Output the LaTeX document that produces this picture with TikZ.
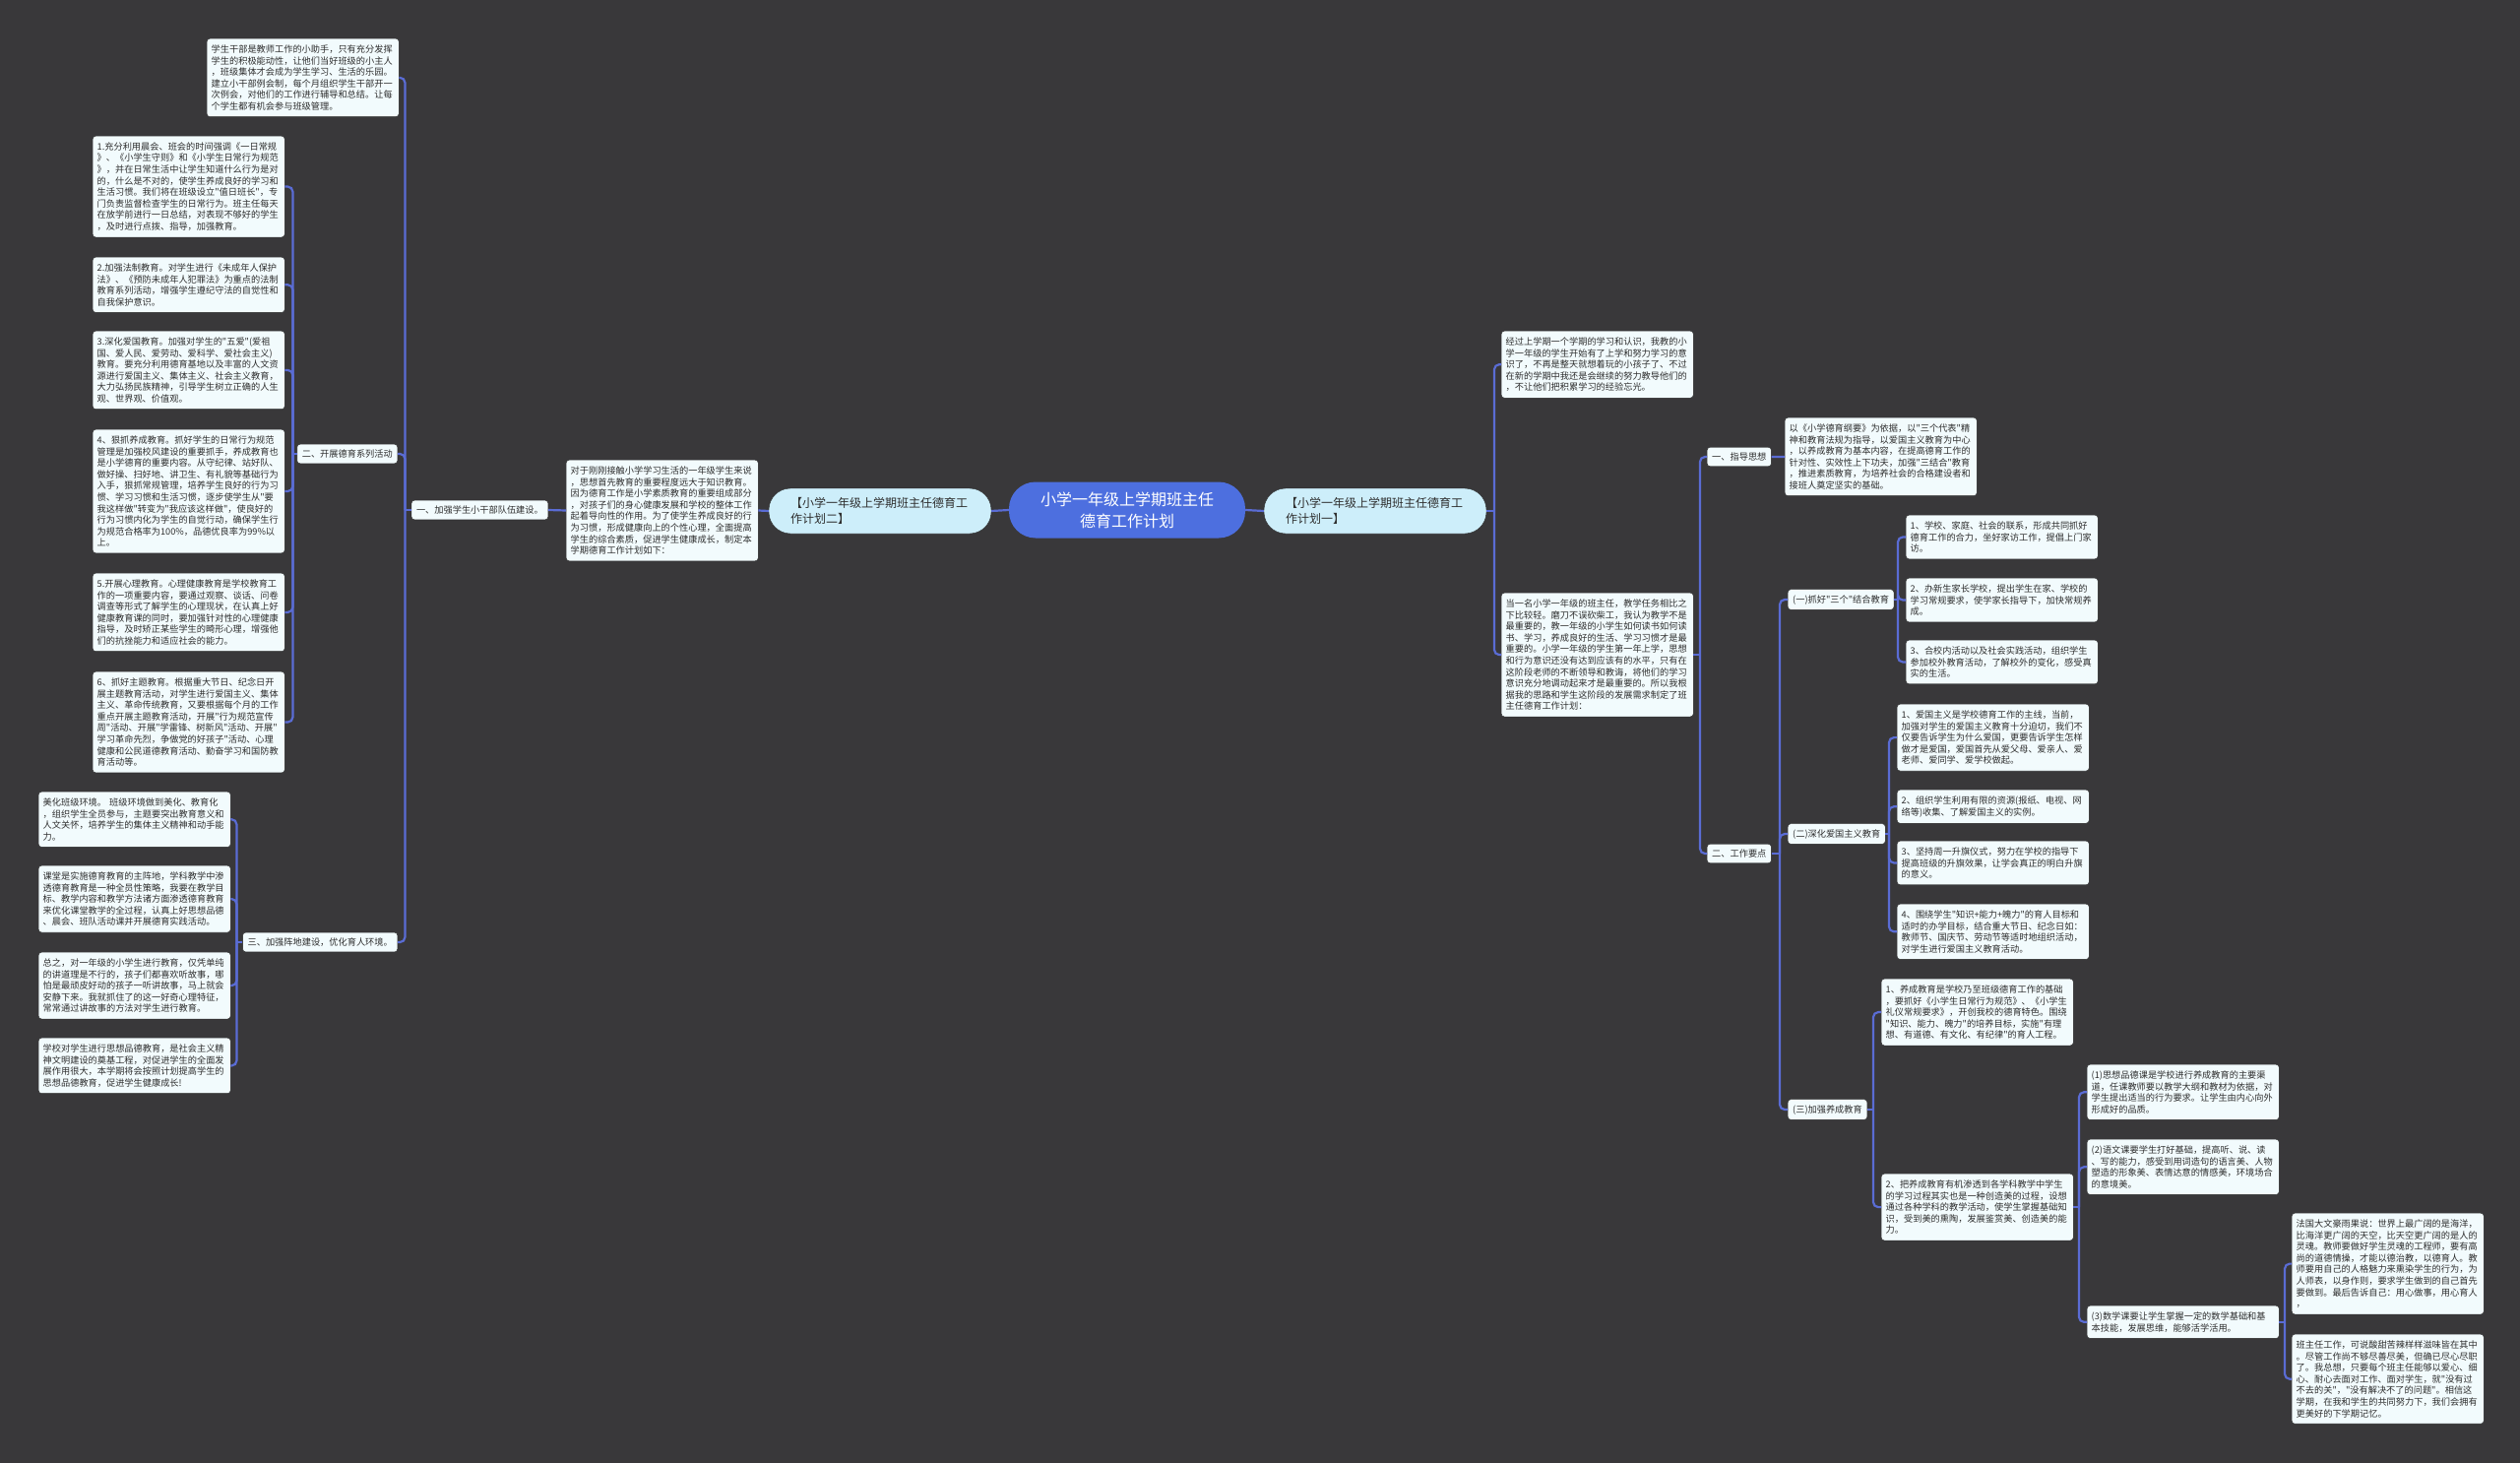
\documentclass[tikz,border=0pt]{standalone}
\usepackage{fontspec}
\newfontfamily\cjk{Noto Sans CJK SC}[Ligatures=TeXOff]
\usetikzlibrary{positioning,calc}
\definecolor{bgc}{HTML}{39383A}
\definecolor{boxc}{HTML}{F2FBFD}
\definecolor{edgec}{HTML}{262626}
\definecolor{planc}{HTML}{CDEEFA}
\definecolor{hubc}{HTML}{4D6FDF}
\definecolor{linkc}{HTML}{5A6CD4}
\definecolor{ink}{HTML}{2E2E2E}
\begin{document}
\begin{tikzpicture}[x=1pt, y=-1pt,
  leaf/.style={draw=edgec, fill=boxc, rounded corners=3pt, anchor=north west, text=ink, font=\cjk\fontsize{9.2}{11.6}\selectfont, text width=186pt, align=left, inner xsep=4.5pt, inner ysep=6.4pt},
  tag/.style={draw=edgec, fill=boxc, rounded corners=3pt, text=ink, font=\cjk\fontsize{9.2}{11.6}\selectfont, inner xsep=5pt, inner ysep=5.5pt},
  plan/.style={draw=edgec, fill=planc, rounded corners=22pt, text=ink, font=\cjk\fontsize{12}{16}\selectfont, text width=182pt, align=left, minimum width=226pt, minimum height=46pt},
  hub/.style={fill=hubc, rounded corners=27pt, text=white, font=\cjk\fontsize{16}{22}\selectfont, align=center, minimum width=240pt, minimum height=57pt},
  link/.style={draw=linkc, line width=2.2pt, rounded corners=5pt}]
  \fill[bgc] (0,0) rectangle (2560,1486);
  \useasboundingbox (0,0) rectangle (2560,1486);

  \node[hub] (root) at (1145,518) {小学一年级上学期班主任\\德育工作计划};
  \node[plan] (planB) at (894,519) {【小学一年级上学期班主任德育工\\作计划二】};
  \node[plan] (planA) at (1397,519) {【小学一年级上学期班主任德育工\\作计划一】};

  \node[leaf] (intro2) at (575,467) {对于刚刚接触小学学习生活的一年级学生来说\\，思想首先教育的重要程度远大于知识教育。\\因为德育工作是小学素质教育的重要组成部分\\，对孩子们的身心健康发展和学校的整体工作\\起着导向性的作用。为了使学生养成良好的行\\为习惯，形成健康向上的个性心理，全面提高\\学生的综合素质，促进学生健康成长，制定本\\学期德育工作计划如下：};
  \node[tag, anchor=east] (t1) at (557,518) {一、加强学生小干部队伍建设。};
  \node[leaf] (cadre) at (210,39) {学生干部是教师工作的小助手，只有充分发挥\\学生的积极能动性，让他们当好班级的小主人\\，班级集体才会成为学生学习、生活的乐园。\\建立小干部例会制，每个月组织学生干部开一\\次例会，对他们的工作进行辅导和总结。让每\\个学生都有机会参与班级管理。};
  \node[tag, anchor=east] (t2) at (404,461) {二、开展德育系列活动};
  \node[tag, anchor=east] (t3) at (404,957) {三、加强阵地建设，优化育人环境。};

  \node[leaf] (n1) at (94,138) {1.充分利用晨会、班会的时间强调《一日常规\\》、《小学生守则》和《小学生日常行为规范\\》，并在日常生活中让学生知道什么行为是对\\的，什么是不对的，使学生养成良好的学习和\\生活习惯。我们将在班级设立"值日班长"，专\\门负责监督检查学生的日常行为。班主任每天\\在放学前进行一日总结，对表现不够好的学生\\，及时进行点拨、指导，加强教育。};
  \node[leaf] (n2) at (94,261) {2.加强法制教育。对学生进行《未成年人保护\\法》、《预防未成年人犯罪法》为重点的法制\\教育系列活动，增强学生遵纪守法的自觉性和\\自我保护意识。};
  \node[leaf] (n3) at (94,336) {3.深化爱国教育。加强对学生的"五爱"(爱祖\\国、爱人民、爱劳动、爱科学、爱社会主义)\\教育。要充分利用德育基地以及丰富的人文资\\源进行爱国主义、集体主义、社会主义教育，\\大力弘扬民族精神，引导学生树立正确的人生\\观、世界观、价值观。};
  \node[leaf] (n4) at (94,436) {4、狠抓养成教育。抓好学生的日常行为规范\\管理是加强校风建设的重要抓手，养成教育也\\是小学德育的重要内容。从守纪律、站好队、\\做好操、扫好地、讲卫生、有礼貌等基础行为\\入手，狠抓常规管理，培养学生良好的行为习\\惯、学习习惯和生活习惯，逐步使学生从"要\\我这样做"转变为"我应该这样做"，使良好的\\行为习惯内化为学生的自觉行动，确保学生行\\为规范合格率为100\%，品德优良率为99\%以\\上。};
  \node[leaf] (n5) at (94,582) {5.开展心理教育。心理健康教育是学校教育工\\作的一项重要内容，要通过观察、谈话、问卷\\调查等形式了解学生的心理现状，在认真上好\\健康教育课的同时，要加强针对性的心理健康\\指导，及时矫正某些学生的畸形心理，增强他\\们的抗挫能力和适应社会的能力。};
  \node[leaf] (n6) at (94,682) {6、抓好主题教育。根据重大节日、纪念日开\\展主题教育活动，对学生进行爱国主义、集体\\主义、革命传统教育，又要根据每个月的工作\\重点开展主题教育活动，开展"行为规范宣传\\周"活动、开展"学雷锋、树新风"活动、开展"\\学习革命先烈，争做党的好孩子"活动、心理\\健康和公民道德教育活动、勤奋学习和国防教\\育活动等。};

  \node[leaf] (b1) at (39,804) {美化班级环境。 班级环境做到美化、教育化\\，组织学生全员参与，主题要突出教育意义和\\人文关怀，培养学生的集体主义精神和动手能\\力。};
  \node[leaf] (b2) at (39,879) {课堂是实施德育教育的主阵地，学科教学中渗\\透德育教育是一种全员性策略，我要在教学目\\标、教学内容和教学方法诸方面渗透德育教育\\来优化课堂教学的全过程，认真上好思想品德\\、晨会、班队活动课并开展德育实践活动。};
  \node[leaf] (b3) at (39,967) {总之，对一年级的小学生进行教育，仅凭单纯\\的讲道理是不行的，孩子们都喜欢听故事，哪\\怕是最顽皮好动的孩子一听讲故事，马上就会\\安静下来。我就抓住了的这一好奇心理特征，\\常常通过讲故事的方法对学生进行教育。};
  \node[leaf] (b4) at (39,1054) {学校对学生进行思想品德教育，是社会主义精\\神文明建设的奠基工程，对促进学生的全面发\\展作用很大，本学期将会按照计划提高学生的\\思想品德教育，促进学生健康成长!};

  \node[leaf] (intro1a) at (1525,336) {经过上学期一个学期的学习和认识，我教的小\\学一年级的学生开始有了上学和努力学习的意\\识了，不再是整天就想着玩的小孩子了、不过\\在新的学期中我还是会继续的努力教导他们的\\，不让他们把积累学习的经验忘光。};
  \node[leaf] (intro1b) at (1525,602) {当一名小学一年级的班主任，教学任务相比之\\下比较轻。磨刀不误砍柴工，我认为教学不是\\最重要的，教一年级的小学生如何读书如何读\\书、学习，养成良好的生活、学习习惯才是最\\重要的。小学一年级的学生第一年上学，思想\\和行为意识还没有达到应该有的水平，只有在\\这阶段老师的不断领导和教诲，将他们的学习\\意识充分地调动起来才是最重要的。所以我根\\据我的思路和学生这阶段的发展需求制定了班\\主任德育工作计划：};
  \node[tag, anchor=west] (s1) at (1734,464) {一、指导思想};
  \node[tag, anchor=west] (s2) at (1734,867) {二、工作要点};
  \node[leaf] (guide) at (1813,424) {以《小学德育纲要》为依据，以"三个代表"精\\神和教育法规为指导，以爱国主义教育为中心\\，以养成教育为基本内容，在提高德育工作的\\针对性、实效性上下功夫，加强"三结合"教育\\，推进素质教育，为培养社会的合格建设者和\\接班人奠定坚实的基础。};
  \node[tag, anchor=west] (k1) at (1816,609) {(一)抓好"三个"结合教育};
  \node[tag, anchor=west] (k2) at (1816,847) {(二)深化爱国主义教育};
  \node[tag, anchor=west] (k3) at (1816,1127) {(三)加强养成教育};

  \node[leaf] (c1) at (1936,523) {1、学校、家庭、社会的联系，形成共同抓好\\德育工作的合力，坐好家访工作，提倡上门家\\访。};
  \node[leaf] (c2) at (1936,587) {2、办新生家长学校，提出学生在家、学校的\\学习常规要求，使学家长指导下，加快常规养\\成。};
  \node[leaf] (c3) at (1936,650) {3、合校内活动以及社会实践活动，组织学生\\参加校外教育活动，了解校外的变化，感受真\\实的生活。};
  \node[leaf] (d1) at (1927,715) {1、爱国主义是学校德育工作的主线，当前，\\加强对学生的爱国主义教育十分迫切，我们不\\仅要告诉学生为什么爱国，更要告诉学生怎样\\做才是爱国，爱国首先从爱父母、爱亲人、爱\\老师、爱同学、爱学校做起。};
  \node[leaf] (d2) at (1927,802) {2、组织学生利用有限的资源(报纸、电视、网\\络等)收集、了解爱国主义的实例。};
  \node[leaf] (d3) at (1927,854) {3、坚持周一升旗仪式，努力在学校的指导下\\提高班级的升旗效果，让学会真正的明白升旗\\的意义。};
  \node[leaf] (d4) at (1927,918) {4、围绕学生"知识+能力+魄力"的育人目标和\\适时的办学目标，结合重大节日、纪念日如：\\教师节、国庆节、劳动节等适时地组织活动，\\对学生进行爱国主义教育活动。};
  \node[leaf] (e1) at (1911,994) {1、养成教育是学校乃至班级德育工作的基础\\，要抓好《小学生日常行为规范》、《小学生\\礼仪常规要求》，开创我校的德育特色。围绕\\"知识、能力、魄力"的培养目标，实施"有理\\想、有道德、有文化、有纪律"的育人工程。};
  \node[leaf] (e2) at (1911,1192) {2、把养成教育有机渗透到各学科教学中学生\\的学习过程其实也是一种创造美的过程，设想\\通过各种学科的教学活动，使学生掌握基础知\\识，受到美的熏陶，发展鉴赏美、创造美的能\\力。};
  \node[leaf] (f1) at (2120,1081) {(1)思想品德课是学校进行养成教育的主要渠\\道，任课教师要以教学大纲和教材为依据，对\\学生提出适当的行为要求。让学生由内心向外\\形成好的品质。};
  \node[leaf] (f2) at (2120,1157) {(2)语文课要学生打好基础，提高听、说、读\\、写的能力，感受到用词造句的语言美、人物\\塑造的形象美、表情达意的情感美，环境场合\\的意境美。};
  \node[leaf] (f3) at (2120,1326) {(3)数学课要让学生掌握一定的数学基础和基\\本技能，发展思维，能够活学活用。};
  \node[leaf] (g1) at (2328,1232) {法国大文豪雨果说：世界上最广阔的是海洋，\\比海洋更广阔的天空，比天空更广阔的是人的\\灵魂。教师要做好学生灵魂的工程师，要有高\\尚的道德情操，才能以德治教，以德育人。教\\师要用自己的人格魅力来熏染学生的行为，为\\人师表，以身作则，要求学生做到的自己首先\\要做到。最后告诉自己：用心做事，用心育人\\，};
  \node[leaf] (g2) at (2328,1355) {班主任工作，可说酸甜苦辣样样滋味皆在其中\\。尽管工作尚不够尽善尽美，但确已尽心尽职\\了。我总想，只要每个班主任能够以爱心、细\\心、耐心去面对工作、面对学生，就"没有过\\不去的关"，"没有解决不了的问题"。相信这\\学期，在我和学生的共同努力下，我们会拥有\\更美好的下学期记忆。};

  \draw[link] (root.west) -- (planB.east);
  \draw[link] (root.east) -- (planA.west);
  \draw[link] (planB.west) -- (intro2.east);
  \draw[link] (intro2.west) -- (t1.east);

  \coordinate (ja) at ($(t1.west -| cadre.east)+(6,0)$);
  \draw[link] (t1.west) -- (ja);
  \foreach \n in {cadre,t2,t3} \draw[link] (ja) |- (\n.east);
  \coordinate (jb) at ($(t2.west -| n1.east)+(8,0)$);
  \draw[link] (t2.west) -- (jb);
  \foreach \i in {1,...,6} \draw[link] (jb) |- (n\i.east);
  \coordinate (jc) at ($(t3.west -| b1.east)+(6,0)$);
  \draw[link] (t3.west) -- (jc);
  \foreach \i in {1,...,4} \draw[link] (jc) |- (b\i.east);

  \coordinate (jd) at ($(planA.east -| intro1a.west)+(-7,0)$);
  \draw[link] (planA.east) -- (jd);
  \foreach \n in {intro1a,intro1b} \draw[link] (jd) |- (\n.west);
  \coordinate (je) at ($(intro1b.east -| s1.west)+(-7,0)$);
  \draw[link] (intro1b.east) -- (je);
  \foreach \n in {s1,s2} \draw[link] (je) |- (\n.west);
  \draw[link] (s1.east) -- (guide.west);
  \coordinate (jf) at ($(s2.east -| k1.west)+(-8,0)$);
  \draw[link] (s2.east) -- (jf);
  \foreach \i in {1,2,3} \draw[link] (jf) |- (k\i.west);
  \coordinate (jg) at ($(k1.east -| c1.west)+(-8,0)$);
  \draw[link] (k1.east) -- (jg);
  \foreach \i in {1,2,3} \draw[link] (jg) |- (c\i.west);
  \coordinate (jh) at ($(k2.east -| d1.west)+(-8,0)$);
  \draw[link] (k2.east) -- (jh);
  \foreach \i in {1,...,4} \draw[link] (jh) |- (d\i.west);
  \coordinate (ji) at ($(k3.east -| e1.west)+(-8,0)$);
  \draw[link] (k3.east) -- (ji);
  \foreach \i in {1,2} \draw[link] (ji) |- (e\i.west);
  \coordinate (jj) at ($(e2.east -| f1.west)+(-8,0)$);
  \draw[link] (e2.east) -- (jj);
  \foreach \i in {1,2,3} \draw[link] (jj) |- (f\i.west);
  \coordinate (jk) at ($(f3.east -| g1.west)+(-7,0)$);
  \draw[link] (f3.east) -- (jk);
  \foreach \i in {1,2} \draw[link] (jk) |- (g\i.west);
\end{tikzpicture}
\end{document}
